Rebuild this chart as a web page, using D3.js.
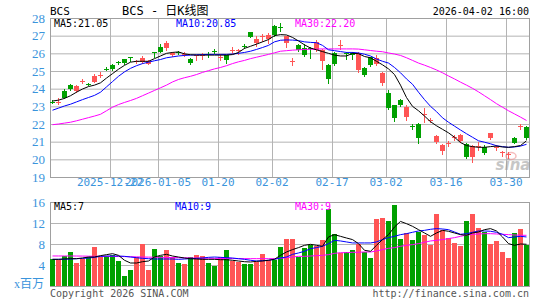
<!DOCTYPE html>
<html>
<head>
<meta charset="utf-8">
<script src="https://cdn.jsdelivr.net/npm/d3@7"></script>
<style>
  body { margin: 0; background: #fff; }
  svg { display: block; }
</style>
</head>
<body>
<div id="chart"></div>
<script>
// trading days shown (80 sessions)
const dates = [
  "2025-12-08","2025-12-09","2025-12-10","2025-12-11","2025-12-12","2025-12-15","2025-12-16","2025-12-17","2025-12-18","2025-12-19",
  "2025-12-22","2025-12-23","2025-12-24","2025-12-26","2025-12-29","2025-12-30","2025-12-31","2026-01-02","2026-01-05","2026-01-06",
  "2026-01-07","2026-01-08","2026-01-09","2026-01-12","2026-01-13","2026-01-14","2026-01-15","2026-01-16","2026-01-20","2026-01-21",
  "2026-01-22","2026-01-23","2026-01-26","2026-01-27","2026-01-28","2026-01-29","2026-01-30","2026-02-02","2026-02-03","2026-02-04",
  "2026-02-05","2026-02-06","2026-02-09","2026-02-10","2026-02-11","2026-02-12","2026-02-13","2026-02-17","2026-02-18","2026-02-19",
  "2026-02-20","2026-02-23","2026-02-24","2026-02-25","2026-02-26","2026-02-27","2026-03-02","2026-03-03","2026-03-04","2026-03-05",
  "2026-03-06","2026-03-09","2026-03-10","2026-03-11","2026-03-12","2026-03-13","2026-03-16","2026-03-17","2026-03-18","2026-03-19",
  "2026-03-20","2026-03-23","2026-03-24","2026-03-25","2026-03-26","2026-03-27","2026-03-30","2026-03-31","2026-04-01","2026-04-02"
];

const opens = [
  23.27,23.20,23.89,24.21,23.87,24.42,24.26,24.40,24.78,25.14,
  25.32,25.50,25.66,25.77,25.52,25.49,25.41,26.07,26.38,26.28,
  25.89,26.10,25.97,25.66,25.86,25.88,25.94,26.16,25.80,25.89,
  26.18,26.18,26.44,27.20,26.58,26.97,26.79,27.55,27.51,26.60,
  25.56,26.45,26.30,26.30,26.19,25.58,25.34,26.00,26.46,26.02,
  26.04,25.06,25.19,25.77,25.40,24.30,23.77,23.08,23.36,22.42,
  21.86,22.00,22.52,22.22,20.96,20.47,20.91,21.24,21.06,20.87,
  20.12,20.74,20.72,21.19,20.67,20.39,20.27,21.21,21.84,21.83
];
const highs = [
  23.35,23.49,23.97,24.27,24.20,24.55,24.33,24.81,24.93,25.25,
  25.38,25.55,25.70,25.77,25.62,25.85,25.60,26.07,26.50,26.70,
  26.06,26.12,26.08,25.72,25.92,26.00,26.08,26.26,25.95,25.92,
  26.35,26.22,26.55,27.22,26.96,27.10,27.15,27.62,27.70,27.00,
  25.72,26.50,26.50,26.38,26.78,26.22,25.38,26.05,26.75,26.10,
  26.07,26.10,25.22,25.80,25.90,24.95,23.90,23.10,23.40,23.05,
  21.98,22.05,22.89,22.35,21.40,20.85,21.05,21.35,21.45,20.90,
  20.80,20.98,20.80,21.50,20.80,20.50,20.42,21.28,21.98,21.88
];
const lows = [
  23.18,23.12,23.45,23.95,23.82,24.30,24.18,24.37,24.65,25.05,
  25.08,25.40,25.42,25.55,25.45,25.43,25.38,25.77,26.08,26.20,
  25.85,25.98,25.85,25.42,25.60,25.70,25.78,26.00,25.60,25.44,
  26.00,25.95,26.30,26.90,26.40,26.72,26.60,27.00,27.28,26.38,
  25.35,26.15,25.85,25.72,26.15,25.11,24.30,25.35,26.23,25.70,
  25.70,24.95,24.72,25.30,25.35,24.22,22.85,22.15,23.00,22.20,
  21.70,20.94,22.13,22.10,20.90,20.30,20.75,21.10,21.00,20.10,
  19.83,20.55,20.30,21.15,20.55,20.20,20.10,20.90,21.70,21.15
];
const closes = [
  23.25,23.26,23.49,23.98,24.15,24.44,24.24,24.70,24.80,25.12,
  25.11,25.44,25.45,25.75,25.54,25.75,25.55,26.05,26.10,26.60,
  26.02,26.00,25.99,25.47,25.88,25.90,25.92,26.14,25.82,25.60,
  26.20,26.20,26.42,26.93,26.80,26.99,27.03,27.03,27.49,26.98,
  25.58,26.19,25.90,26.25,26.62,26.19,24.53,25.40,26.48,25.98,
  25.90,26.00,24.77,25.34,25.72,24.90,22.89,22.32,23.08,22.94,
  21.84,21.20,22.54,22.24,21.32,20.80,20.93,21.26,21.38,20.15,
  20.77,20.76,20.38,21.47,20.69,20.41,20.29,20.94,21.86,21.19
];

// price moving averages as drawn
const ma5 = [
  23.30,23.35,23.45,23.60,23.80,23.98,24.12,24.20,24.33,24.60,
  24.85,25.10,25.32,25.50,25.55,25.55,25.55,25.70,25.85,26.00,
  26.05,26.08,25.97,25.92,25.90,25.90,25.90,25.90,25.90,25.90,
  25.93,26.05,26.28,26.40,26.52,26.65,26.78,27.00,27.06,27.04,
  26.90,26.70,26.48,26.30,26.20,26.10,26.00,25.90,25.85,25.85,
  26.00,25.98,25.82,25.75,25.55,25.35,25.12,24.80,24.20,23.50,
  23.00,22.75,22.45,22.13,21.90,21.70,21.50,21.25,20.95,20.78,
  20.72,20.68,20.68,20.72,20.75,20.70,20.68,20.72,20.78,21.05
];
const ma10 = [
  22.78,22.90,23.02,23.12,23.25,23.38,23.50,23.62,23.80,24.10,
  24.40,24.70,24.95,25.15,25.30,25.42,25.50,25.58,25.65,25.75,
  25.80,25.85,25.88,25.90,25.92,25.93,25.94,25.94,25.94,25.94,
  25.96,26.00,26.05,26.12,26.22,26.33,26.45,26.65,26.74,26.76,
  26.75,26.72,26.65,26.62,26.60,26.45,26.20,26.15,26.10,26.05,
  26.05,26.02,25.95,25.85,25.68,25.55,25.45,25.20,24.90,24.55,
  24.25,23.80,23.38,23.00,22.70,22.35,22.10,21.88,21.66,21.45,
  21.25,21.05,20.97,20.88,20.77,20.72,20.68,20.70,20.75,20.85
];
const ma30 = [
  21.96,22.00,22.05,22.10,22.18,22.27,22.36,22.45,22.55,22.75,
  22.95,23.10,23.22,23.33,23.45,23.60,23.75,23.90,24.05,24.20,
  24.38,24.52,24.62,24.70,24.80,24.92,25.02,25.12,25.20,25.30,
  25.42,25.52,25.60,25.70,25.78,25.86,25.94,26.03,26.12,26.15,
  26.18,26.20,26.22,26.23,26.24,26.25,26.25,26.25,26.25,26.25,
  26.25,26.24,26.20,26.16,26.12,26.09,26.02,25.96,25.88,25.75,
  25.60,25.45,25.33,25.20,25.06,24.90,24.72,24.55,24.37,24.20,
  24.02,23.82,23.60,23.38,23.15,22.95,22.75,22.57,22.39,22.20
];

// volume, millions of shares
const volumes = [
  5.21,4.90,5.70,6.42,4.32,5.21,5.52,7.37,5.52,5.65,
  5.97,4.70,1.84,2.98,5.52,7.94,2.98,6.98,5.78,6.80,
  5.52,4.38,4.13,5.52,5.84,5.65,4.38,3.81,5.46,6.80,
  4.76,4.57,4.13,4.13,4.57,6.10,4.90,5.02,7.37,9.03,
  9.03,5.52,7.31,7.75,7.56,8.70,14.74,9.98,6.29,6.48,
  6.80,7.94,6.48,5.40,12.83,13.02,12.32,15.37,9.03,10.17,
  8.84,10.29,9.78,7.75,13.66,10.60,9.14,8.27,7.56,12.32,
  13.66,11.12,10.29,7.94,8.51,6.42,5.40,10.17,10.93,7.75
];
const volMa5 = [
  5.08,5.08,5.15,5.20,5.20,5.34,5.52,5.52,5.78,5.97,
  6.16,5.84,4.90,4.38,4.38,4.63,4.76,5.52,5.84,6.03,
  5.71,5.52,5.33,5.20,5.14,5.08,5.08,5.08,5.01,5.01,
  4.90,4.76,4.63,4.57,4.70,4.76,4.90,5.10,5.84,6.48,
  6.93,7.31,7.75,7.94,7.75,7.56,9.34,9.78,9.46,9.14,
  8.84,8.07,6.80,6.61,7.75,8.84,9.78,11.24,12.30,11.87,
  11.37,10.73,10.10,9.46,10.10,10.60,10.42,10.10,9.78,9.66,
  10.10,10.29,10.73,10.93,10.48,9.34,8.07,7.75,8.00,7.95
];
const volMa10 = [
  5.08,5.08,5.10,5.15,5.20,5.25,5.33,5.46,5.65,5.71,
  5.71,5.71,5.65,5.52,5.39,5.27,5.20,5.14,5.14,5.14,
  5.14,5.08,5.14,5.20,5.27,5.33,5.46,5.52,5.46,5.39,
  5.33,5.20,5.08,4.90,4.76,4.83,4.90,5.08,5.33,5.52,
  6.03,6.29,6.61,7.12,7.31,7.56,8.07,8.70,8.58,8.39,
  8.20,8.20,8.20,8.20,8.39,8.84,9.21,9.46,9.78,9.97,
  10.23,10.48,10.60,10.80,10.93,10.86,10.73,10.29,9.85,9.97,
  10.23,10.48,10.48,10.42,10.23,9.85,9.21,9.34,9.46,9.34
];
const volMa30 = [
  5.72,5.72,5.72,5.72,5.71,5.70,5.68,5.66,5.65,5.64,
  5.63,5.62,5.60,5.58,5.55,5.52,5.50,5.48,5.46,5.44,
  5.42,5.40,5.38,5.35,5.33,5.30,5.28,5.26,5.25,5.24,
  5.23,5.22,5.22,5.21,5.21,5.21,5.21,5.21,5.27,5.39,
  5.52,5.65,5.65,5.71,5.78,5.84,5.97,6.22,6.35,6.35,
  6.42,6.42,6.48,6.48,6.67,6.93,7.18,7.31,7.56,7.75,
  7.88,8.07,8.33,8.58,8.70,8.84,9.03,9.21,9.46,9.72,
  9.85,9.91,9.97,9.97,9.91,9.85,9.78,9.72,9.66,9.66
];

const tickDates = ["2025-12-22","2026-01-05","2026-01-20","2026-02-02","2026-02-17","2026-03-02","2026-03-16","2026-03-30"];
const tickLabels = ["2025-12-22","2026-01-05","01-20","02-02","02-17","03-02","03-16","03-30"];
const priceTicks = [19, 20, 21, 22, 23, 24, 25, 26, 27, 28];
const volTicks = [4, 8, 12, 16];

// layout
const width = 545, height = 300;
const plot = { left: 50, right: 530, top: 18, bottom: 177 };
const vplot = { top: 202, bottom: 286 };
const gridColor = '#b4b4b4';
const borderColor = '#a0a0a0';
const axisBlue = '#3a94dc';
const red = '#ff5555';
const green = '#00a000';
const mono = '"DejaVu Sans Mono", monospace';

const svg = d3.select('#chart').append('svg')
  .attr('width', width)
  .attr('height', height)
  .style('background', '#fff');

// scales
const x = d3.scaleBand()
  .domain(dates)
  .range([plot.left, plot.right])
  .paddingInner(1 / 6)
  .paddingOuter(1 / 12)
  .align(0);
const cx = d => x(d) + x.bandwidth() / 2;

const y = d3.scaleLinear().domain([19, 28]).range([plot.bottom, plot.top]);
const yv = d3.scaleLinear().domain([0, 16]).range([vplot.bottom, vplot.top]);

// price grid + labels
svg.append('g')
  .attr('transform', 'translate(' + plot.left + ',0)')
  .call(d3.axisLeft(y).tickValues(priceTicks).tickSize(-(plot.right - plot.left - 1)).tickPadding(5))
  .call(g => g.select('.domain').remove())
  .call(g => g.selectAll('line').attr('stroke', gridColor))
  .call(g => g.selectAll('text')
    .attr('fill', axisBlue)
    .style('font-family', '"Liberation Serif", serif')
    .style('font-size', '13px'));

// vertical grid at tick dates
svg.append('g')
  .selectAll('line')
  .data(tickDates)
  .join('line')
  .attr('x1', d => x(d) + 0.5)
  .attr('x2', d => x(d) + 0.5)
  .attr('y1', plot.top)
  .attr('y2', plot.bottom)
  .attr('stroke', gridColor);

// date labels (the first two overlap in the original too)
svg.append('g')
  .selectAll('text')
  .data(tickDates)
  .join('text')
  .attr('x', d => x(d))
  .attr('y', 186)
  .attr('text-anchor', 'middle')
  .attr('fill', axisBlue)
  .style('font-family', mono)
  .style('font-size', '11px')
  .text((d, i) => tickLabels[i]);

// price border
svg.append('rect')
  .attr('x', plot.left + 0.5)
  .attr('y', plot.top + 0.5)
  .attr('width', plot.right - plot.left - 1)
  .attr('height', plot.bottom - plot.top)
  .attr('fill', 'none')
  .attr('stroke', borderColor);

// sina watermark
const wm = svg.append('g').attr('opacity', 0.55);
wm.append('ellipse')
  .attr('cx', 511).attr('cy', 156).attr('rx', 5).attr('ry', 3.5)
  .attr('fill', 'none').attr('stroke', '#e88').attr('stroke-width', 1.5);
wm.append('text')
  .attr('x', 513).attr('y', 170)
  .attr('text-anchor', 'middle')
  .attr('fill', '#999')
  .style('font-family', '"DejaVu Sans", sans-serif')
  .style('font-weight', 'bold')
  .style('font-style', 'italic')
  .style('font-size', '15px')
  .text('sina');

svg.append('clipPath').attr('id', 'clip-main')
  .append('rect')
  .attr('x', plot.left).attr('y', plot.top)
  .attr('width', plot.right - plot.left).attr('height', plot.bottom - plot.top);

// candles
const isUp = i => closes[i] >= opens[i];
const candles = svg.append('g').attr('shape-rendering', 'crispEdges');

candles.selectAll('line')
  .data(dates)
  .join('line')
  .attr('x1', d => cx(d))
  .attr('x2', d => cx(d))
  .attr('y1', (d, i) => Math.round(y(highs[i])))
  .attr('y2', (d, i) => Math.round(y(lows[i])) + 1)
  .attr('stroke', (d, i) => isUp(i) ? red : green);

candles.selectAll('rect')
  .data(dates)
  .join('rect')
  .attr('x', d => x(d))
  .attr('width', x.bandwidth())
  .attr('y', (d, i) => Math.round(y(Math.max(opens[i], closes[i]))))
  .attr('height', (d, i) => Math.max(1, Math.round(y(Math.min(opens[i], closes[i]))) - Math.round(y(Math.max(opens[i], closes[i])))))
  .attr('fill', (d, i) => isUp(i) ? red : green);

// moving average lines
const maLine = arr => d3.line().x(d => cx(d)).y((d, i) => y(arr[i]));
const mainLines = svg.append('g').attr('clip-path', 'url(#clip-main)');
[[ma30, '#ff00ff'], [ma10, '#0000ff'], [ma5, '#000000']].forEach(([arr, color]) => {
  mainLines.append('path')
    .datum(dates)
    .attr('d', maLine(arr))
    .attr('fill', 'none')
    .attr('stroke', color)
    .attr('stroke-width', 1);
});

// header texts
svg.append('text')
  .attr('x', 50).attr('y', 15)
  .style('font-family', mono).style('font-size', '11px')
  .text('BCS');
svg.append('text')
  .attr('x', 122).attr('y', 15)
  .style('font-family', '"DejaVu Sans Mono", "Noto Sans CJK SC", monospace').style('font-size', '12px')
  .text('BCS - 日K线图');
svg.append('text')
  .attr('x', 529).attr('y', 15)
  .attr('text-anchor', 'end')
  .style('font-family', mono).style('font-size', '10px')
  .text('2026-04-02 16:00');

const maLabels = [
  ['MA5:' + ma5[ma5.length - 1].toFixed(2), 54, '#000'],
  ['MA10:' + ma10[ma10.length - 1].toFixed(2), 176, '#0000ff'],
  ['MA30:' + ma30[ma30.length - 1].toFixed(2), 295, '#ff00ff']
];
maLabels.forEach(([t, px, c]) => {
  svg.append('text').attr('x', px).attr('y', 27).attr('fill', c)
    .style('font-family', mono).style('font-size', '10px').text(t);
});

// volume panel grid + labels
svg.append('g')
  .attr('transform', 'translate(' + plot.left + ',0)')
  .call(d3.axisLeft(yv).tickValues(volTicks).tickSize(-(plot.right - plot.left - 1)).tickPadding(5))
  .call(g => g.select('.domain').remove())
  .call(g => g.selectAll('line').attr('stroke', gridColor))
  .call(g => g.selectAll('text')
    .attr('fill', axisBlue)
    .style('font-family', '"Liberation Serif", serif')
    .style('font-size', '13px'));

svg.append('rect')
  .attr('x', plot.left + 0.5)
  .attr('y', vplot.top + 0.5)
  .attr('width', plot.right - plot.left - 1)
  .attr('height', vplot.bottom - vplot.top)
  .attr('fill', 'none')
  .attr('stroke', borderColor);

svg.append('g')
  .attr('shape-rendering', 'crispEdges')
  .selectAll('rect')
  .data(dates)
  .join('rect')
  .attr('x', d => x(d))
  .attr('width', x.bandwidth())
  .attr('y', (d, i) => Math.round(yv(volumes[i])))
  .attr('height', (d, i) => yv(0) - Math.round(yv(volumes[i])))
  .attr('fill', (d, i) => isUp(i) ? red : green);

const vmaLine = arr => d3.line().x(d => cx(d)).y((d, i) => yv(arr[i]));
[[volMa30, '#ff00ff'], [volMa10, '#0000ff'], [volMa5, '#000000']].forEach(([arr, color]) => {
  svg.append('path')
    .datum(dates)
    .attr('d', vmaLine(arr))
    .attr('fill', 'none')
    .attr('stroke', color)
    .attr('stroke-width', 1);
});

const volLabels = [
  ['MA5:' + Math.floor(volMa5[volMa5.length - 1]), 54, '#000'],
  ['MA10:' + Math.floor(volMa10[volMa10.length - 1]), 175, '#0000ff'],
  ['MA30:' + Math.floor(volMa30[volMa30.length - 1]), 295, '#ff00ff']
];
volLabels.forEach(([t, px, c]) => {
  svg.append('text').attr('x', px).attr('y', 210).attr('fill', c)
    .style('font-family', mono).style('font-size', '10px').text(t);
});

svg.append('text')
  .attr('x', 44).attr('y', 288)
  .attr('text-anchor', 'end')
  .attr('fill', axisBlue)
  .style('font-family', '"Liberation Serif", "Noto Sans CJK SC", serif')
  .style('font-size', '12px')
  .text('x百万');

// footer
svg.append('text')
  .attr('x', 50).attr('y', 297)
  .attr('fill', '#555')
  .style('font-family', mono).style('font-size', '10px')
  .text('Copyright 2026 SINA.COM');
svg.append('text')
  .attr('x', 529).attr('y', 297)
  .attr('text-anchor', 'end')
  .attr('fill', '#555')
  .style('font-family', mono).style('font-size', '10px')
  .text('http://finance.sina.com.cn');
</script>
</body>
</html>
